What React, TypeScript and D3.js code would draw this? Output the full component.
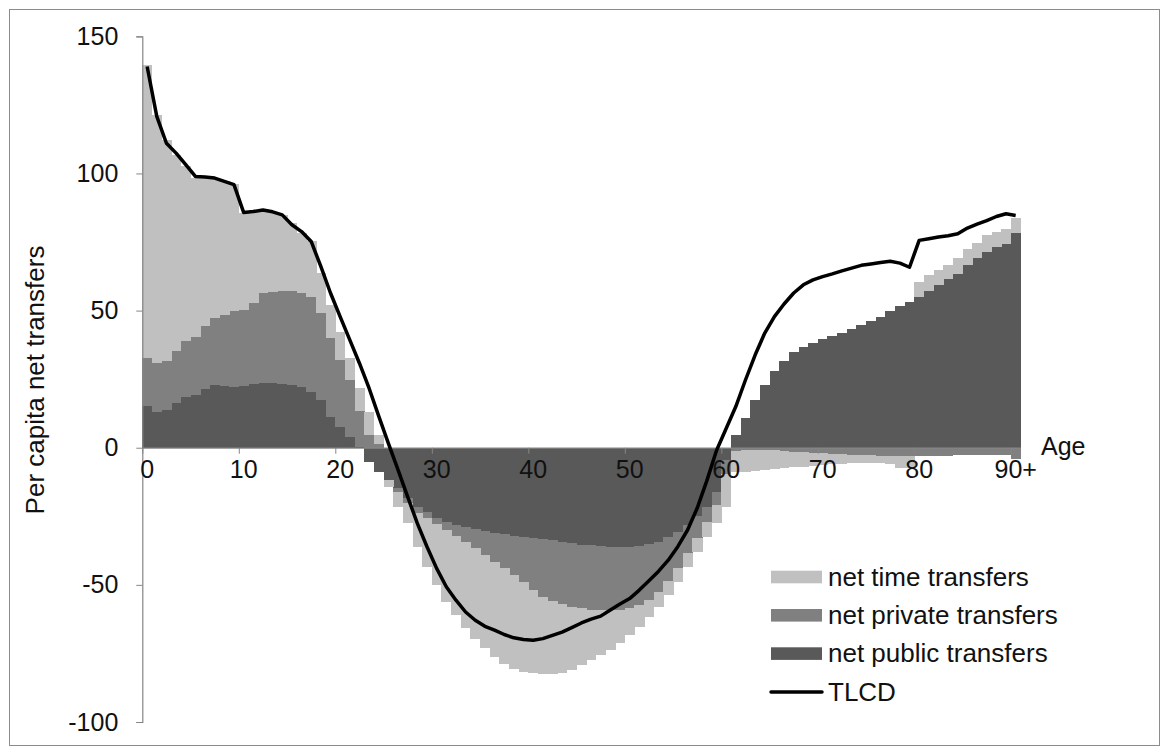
import React, { useRef, useEffect } from "react";
import * as d3 from "d3";

// ages 0..90 (90 = "90+")
const ages = d3.range(0, 91);

const publicTransfers = [
  15.2, 12.9, 13.8, 16.2, 18.6, 19.2, 21.3, 22.9, 22.5, 22.3,
  22.5, 23.2, 23.7, 23.7, 23.4, 22.9, 22.0, 20.4, 17.4, 11.3,
  7.7, 4.0, 0.3, -5.1, -8.8, -11.8, -14.8, -18.5, -21.5, -23.5,
  -25.5, -27.0, -28.2, -29.0, -29.8, -30.4, -31.0, -31.6, -32.1, -32.5,
  -32.8, -33.2, -33.7, -34.3, -34.9, -35.3, -35.6, -35.9, -36.1, -36.1,
  -36.1, -35.7, -35.1, -34.3, -32.7, -30.7, -28.2, -25.0, -21.5, -16.0,
  -4.5, 4.6, 10.7, 17.4, 22.9, 28.0, 31.6, 35.0, 36.9, 38.3,
  39.6, 40.8, 41.7, 43.2, 44.8, 46.2, 47.8, 50.0, 51.7, 53.3,
  55.1, 57.2, 59.4, 61.5, 63.4, 66.7, 69.1, 71.5, 73.1, 74.3,
  78.2
];

const privateTransfers = [
  17.4, 17.9, 17.8, 19.2, 20.4, 21.3, 22.9, 24.3, 25.9, 27.6,
  27.8, 29.7, 32.7, 33.2, 33.9, 34.4, 34.4, 34.7, 31.6, 28.6,
  24.3, 20.7, 13.1, 4.5, 1.5, 0, -1.2, -1.5, -2.4, -2.3,
  -2.3, -3.0, -4.0, -5.3, -6.9, -8.8, -10.6, -12.4, -14.4, -16.5,
  -19.2, -21.3, -22.3, -22.7, -23.1, -23.3, -23.4, -23.3, -23.2, -22.9,
  -22.4, -21.8, -20.4, -18.2, -15.8, -13.3, -10.3, -8.0, -5.5, -5.0,
  -5.0, -1.2, -1.0, -0.8, -0.8, -1.0, -1.2, -1.4, -1.6, -1.8,
  -2.0, -2.2, -2.4, -2.6, -2.7, -2.8, -2.9, -3.0, -3.0, -3.0,
  -3.2, -3.2, -3.0, -3.0, -2.8, -2.6, -2.5, -2.5, -2.6, -2.8,
  -4.0
];

const timeTransfers = [
  107.0, 90.6, 80.7, 71.4, 63.6, 57.8, 54.1, 51.1, 48.7, 46.3,
  35.2, 33.2, 30.3, 29.1, 27.6, 24.6, 21.8, 20.1, 14.6, 12.2,
  10.3, 7.9, 8.3, 8.5, 3.0, -2.4, -5.5, -7.6, -12.2, -17.6,
  -22.3, -26.2, -28.9, -31.6, -32.9, -34.0, -34.7, -34.7, -34.0, -32.8,
  -30.3, -28.1, -26.6, -25.1, -22.9, -20.7, -18.5, -16.5, -14.3, -12.2,
  -9.9, -7.8, -6.2, -5.5, -5.3, -4.9, -4.9, -5.0, -5.5, -6.6,
  -12.0, -7.8, -7.8, -7.7, -7.3, -6.8, -6.3, -5.8, -5.3, -4.8,
  -4.3, -3.9, -3.5, -3.1, -2.9, -2.7, -2.7, -3.0, -4.3, -4.5,
  5.5, 5.8, 5.5, 5.2, 5.7, 5.7, 5.7, 6.1, 5.7, 5.4,
  5.5
];

const tlcd = [
  139.0, 120.8, 111.0, 107.4, 103.2, 98.9, 98.7, 98.3, 97.1, 95.9,
  85.8, 86.1, 86.7, 86.0, 84.9, 81.3, 78.8, 75.2, 66.1, 56.4,
  47.8, 39.3, 30.8, 21.7, 11.5, 1.6, -8.1, -17.9, -27.6, -36.1,
  -44.0, -50.7, -55.6, -59.9, -62.9, -65.1, -66.5, -68.1, -69.3, -69.9,
  -70.2, -69.6, -68.4, -67.2, -65.6, -63.9, -62.5, -61.4, -59.2, -57.0,
  -55.0, -51.9, -48.5, -45.0, -41.0, -36.0, -30.0, -22.0, -12.0, -1.0,
  7.0, 15.0, 24.7, 33.8, 41.8, 47.8, 52.4, 56.4, 59.4, 61.2,
  62.4, 63.4, 64.5, 65.5, 66.5, 67.0, 67.5, 68.0, 67.3, 65.8,
  75.6, 76.2, 76.8, 77.3, 78.0, 80.1, 81.5, 82.8, 84.3, 85.3,
  84.7
];

const xTickAges = [0, 10, 20, 30, 40, 50, 60, 70, 80, 90];
const xTickLabels = ["0", "10", "20", "30", "40", "50", "60", "70", "80", "90+"];
const yTicks = [-100, -50, 0, 50, 100, 150];

const seriesKeys = ["public", "private", "time"];
const seriesColors = { public: "#595959", private: "#808080", time: "#c0c0c0" };
const legendItems = [
  { label: "net time transfers", key: "time" },
  { label: "net private transfers", key: "private" },
  { label: "net public transfers", key: "public" },
  { label: "TLCD", key: "line" }
];

const W = 1168;
const H = 753;
const FONT = "'Liberation Sans', Arial, sans-serif";

function App() {
  const svgRef = useRef(null);

  useEffect(() => {
    const svg = d3.select(svgRef.current);
    svg.selectAll("*").remove();

    const x = d3.scaleBand().domain(ages).range([142.3, 1020.5]).padding(0);
    const xEdge = d3.scaleLinear().domain([0, 91]).range([142.3, 1020.5]);
    const y = d3.scaleLinear().domain([-100, 150]).range([722, 36.3]);

    // outer frame
    svg.append("rect")
      .attr("x", 9.5).attr("y", 9.5)
      .attr("width", 1150).attr("height", 736)
      .attr("fill", "white")
      .attr("stroke", "#8c8c8c");

    const table = ages.map((a, i) => ({
      age: a,
      public: publicTransfers[i],
      private: privateTransfers[i],
      time: timeTransfers[i]
    }));

    const stacked = d3.stack()
      .keys(seriesKeys)
      .offset(d3.stackOffsetDiverging)(table);

    svg.append("g")
      .attr("shape-rendering", "crispEdges")
      .selectAll("g")
      .data(stacked)
      .join("g")
      .attr("fill", s => seriesColors[s.key])
      .selectAll("rect")
      .data(s => s)
      .join("rect")
      .attr("x", d => x(d.data.age))
      .attr("width", x.bandwidth() + 0.5)
      .attr("y", d => y(Math.max(d[0], d[1])))
      .attr("height", d => Math.abs(y(d[0]) - y(d[1])));

    // y axis
    const yAxis = d3.axisLeft(y)
      .tickValues(yTicks)
      .tickSize(6)
      .tickPadding(18)
      .tickFormat(d => String(d));
    const gy = svg.append("g").attr("transform", "translate(142.3,0)").call(yAxis);
    gy.select(".domain").attr("stroke", "#868686").attr("stroke-width", 1.2);
    gy.selectAll(".tick line").attr("stroke", "#868686");
    gy.selectAll("text")
      .attr("font-family", FONT)
      .attr("font-size", 25)
      .attr("fill", "#111");

    // x axis line with tick marks at category boundaries
    const xTickAxis = d3.axisBottom(xEdge)
      .tickValues(xTickAges)
      .tickSize(6)
      .tickSizeOuter(0)
      .tickFormat(() => "");
    const gx = svg.append("g").attr("transform", `translate(0,${y(0)})`).call(xTickAxis);
    gx.select(".domain").attr("stroke", "#868686").attr("stroke-width", 1.2);
    gx.selectAll(".tick line").attr("stroke", "#868686");

    // x labels at category centres
    const xLabelAxis = d3.axisBottom(x)
      .tickValues(xTickAges)
      .tickSize(0)
      .tickPadding(13)
      .tickFormat((d, i) => xTickLabels[i]);
    const gxl = svg.append("g").attr("transform", `translate(0,${y(0)})`).call(xLabelAxis);
    gxl.select(".domain").remove();
    gxl.selectAll("text")
      .attr("font-family", FONT)
      .attr("font-size", 25)
      .attr("fill", "#111");

    // TLCD line
    const tlcdLine = d3.line()
      .x((v, i) => x(ages[i]) + x.bandwidth() / 2)
      .y(v => y(v));
    svg.append("path")
      .datum(tlcd)
      .attr("d", tlcdLine)
      .attr("fill", "none")
      .attr("stroke", "#000")
      .attr("stroke-width", 3.5)
      .attr("stroke-linejoin", "round");

    // axis titles
    svg.append("text")
      .attr("transform", "translate(44,380) rotate(-90)")
      .attr("text-anchor", "middle")
      .attr("font-family", FONT)
      .attr("font-size", 26)
      .attr("fill", "#111")
      .text("Per capita net transfers");

    svg.append("text")
      .attr("x", 1041)
      .attr("y", 455)
      .attr("font-family", FONT)
      .attr("font-size", 25)
      .attr("fill", "#111")
      .text("Age");

    // legend
    const legend = svg.append("g");
    const row = legend.selectAll("g")
      .data(legendItems)
      .join("g")
      .attr("transform", (d, i) => `translate(771,${577 + i * 38.3})`);
    row.filter(d => d.key !== "line")
      .append("rect")
      .attr("x", 0).attr("y", -6.3)
      .attr("width", 51).attr("height", 12.6)
      .attr("fill", d => seriesColors[d.key]);
    row.filter(d => d.key === "line")
      .append("line")
      .attr("x1", 0).attr("x2", 51)
      .attr("stroke", "#000")
      .attr("stroke-width", 3.5)
      .attr("stroke-linecap", "round");
    row.append("text")
      .attr("x", 57)
      .attr("y", 8.8)
      .attr("font-family", FONT)
      .attr("font-size", 26)
      .attr("fill", "#111")
      .text(d => d.label);
  }, []);

  return (
    <div style={{ position: "fixed", left: 0, top: 0 }}>
      <svg ref={svgRef} width={W} height={H} style={{ display: "block" }} />
    </div>
  );
}

export default App;
